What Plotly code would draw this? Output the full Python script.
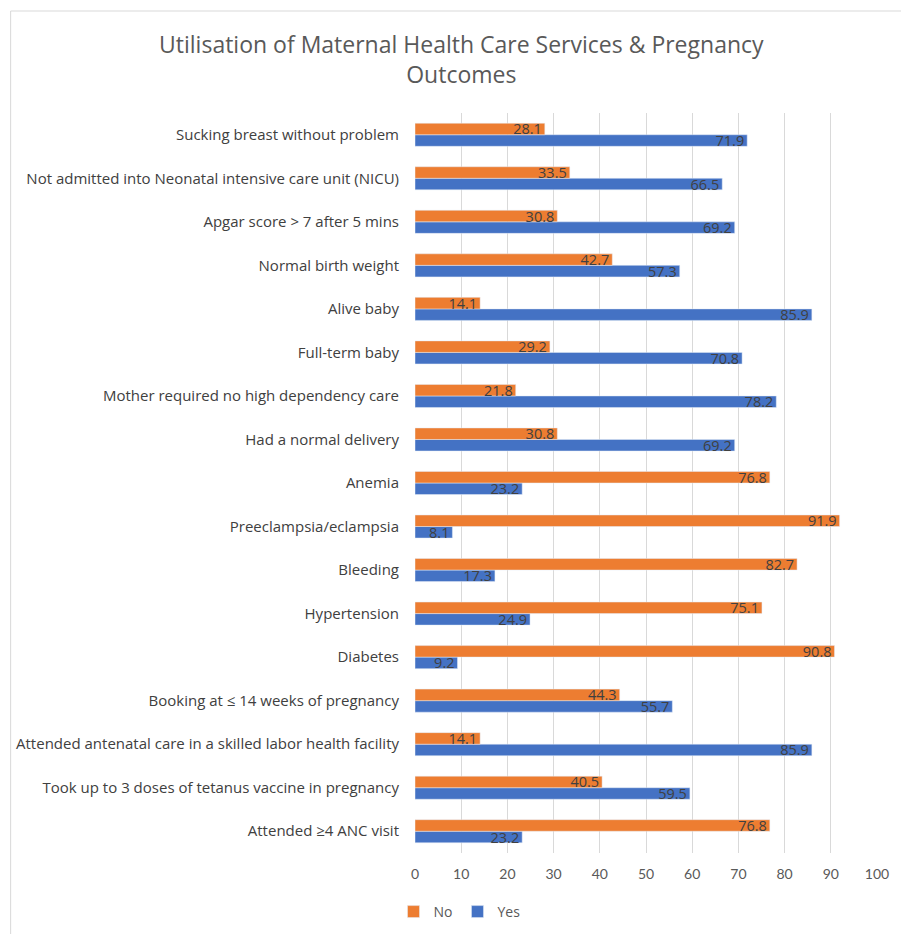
import plotly.graph_objects as go

categories = [
    "Sucking breast without problem",
    "Not admitted into Neonatal intensive care unit (NICU)",
    "Apgar score > 7 after 5 mins",
    "Normal birth weight",
    "Alive baby",
    "Full-term baby",
    "Mother required no high dependency care",
    "Had a normal delivery",
    "Anemia",
    "Preeclampsia/eclampsia",
    "Bleeding",
    "Hypertension",
    "Diabetes",
    "Booking at ≤ 14 weeks of pregnancy",
    "Attended antenatal care in a skilled labor health facility",
    "Took up to 3 doses of tetanus vaccine in pregnancy",
    "Attended ≥4 ANC visit",
]
no_vals = [28.1, 33.5, 30.8, 42.7, 14.1, 29.2, 21.8, 30.8, 76.8, 91.9, 82.7, 75.1, 90.8, 44.3, 14.1, 40.5, 76.8]
yes_vals = [71.9, 66.5, 69.2, 57.3, 85.9, 70.8, 78.2, 69.2, 23.2, 8.1, 17.3, 24.9, 9.2, 55.7, 85.9, 59.5, 23.2]
x_ticks = [0, 10, 20, 30, 40, 50, 60, 70, 80, 90, 100]

# plotly category axis goes bottom-up, so reverse
cats_b = categories[::-1]
no_b = no_vals[::-1]
yes_b = yes_vals[::-1]

FONT = "Lato"
FONT2 = "Open Sans"
W, H = 901, 934
ML, MR, MT, MB = 415, 21, 113, 81
pw = W - ML - MR
ph = H - MT - MB

fig = go.Figure()
fig.add_trace(go.Bar(
    y=cats_b, x=yes_b, name="Yes", orientation="h",
    marker=dict(color="#4472C4"),
    text=[f"{v:.1f}" for v in yes_b], textposition="inside", insidetextanchor="end",
    textfont=dict(color="#404040", size=14.5, family=FONT2),
))
fig.add_trace(go.Bar(
    y=cats_b, x=no_b, name="No", orientation="h",
    marker=dict(color="#ED7D31"),
    text=[f"{v:.1f}" for v in no_b], textposition="inside", insidetextanchor="end",
    textfont=dict(color="#404040", size=14.5, family=FONT2),
))

def px_x(p):
    return (p - ML) / pw

def px_y(p):
    return 1 - (p - MT) / ph

fig.add_shape(type="rect", xref="paper", yref="paper",
              x0=px_x(8), x1=px_x(912), y0=px_y(945), y1=px_y(11),
              line=dict(color="#d9d9d9", width=1), fillcolor="rgba(0,0,0,0)", layer="below")

fig.update_layout(
    width=W, height=H,
    margin=dict(l=ML, r=MR, t=MT, b=MB),
    paper_bgcolor="white", plot_bgcolor="white",
    barmode="group", bargap=0.47, bargroupgap=0,
    uniformtext=dict(minsize=14.5, mode="show"),
    title=dict(text="Utilisation of Maternal Health Care Services & Pregnancy<br>Outcomes",
               x=0.512, xanchor="center", xref="container", y=1 - 53 / H, yanchor="middle",
               yref="container",
               font=dict(family=FONT2, size=23, color="#595959")),
    font=dict(family=FONT2, color="#595959", size=14),
    xaxis=dict(range=[0, 100], tickvals=x_ticks, showgrid=True, gridcolor="#d9d9d9", gridwidth=1,
               zeroline=False, showline=False, tickfont=dict(size=14, color="#595959", family=FONT),
               ticks="outside", ticklen=8, tickcolor="rgba(0,0,0,0)"),
    yaxis=dict(showgrid=False, zeroline=False, showline=False,
               tickfont=dict(size=15, color="#404040", family=FONT2),
               ticks="outside", ticklen=12, tickcolor="rgba(0,0,0,0)"),
    legend=dict(orientation="h", traceorder="reversed", xref="container", yref="container",
                x=0.51, xanchor="center", y=1 - 912 / H, yanchor="middle",
                font=dict(size=14, color="#595959", family=FONT2), itemwidth=30),
    showlegend=True,
)

fig.write_html("out.html")
